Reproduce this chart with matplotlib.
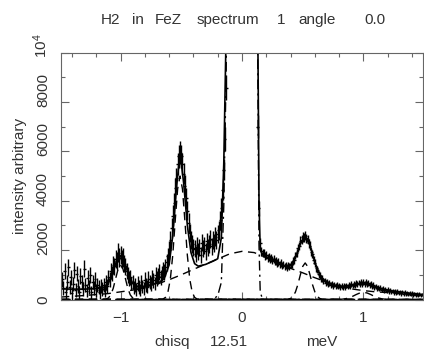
import numpy as np
import matplotlib
matplotlib.use("Agg")
import matplotlib.pyplot as plt
import matplotlib.transforms as mtransforms
from matplotlib.ticker import MultipleLocator

plt.rcParams['font.family'] = ['Liberation Sans', 'DejaVu Sans']
plt.rcParams['mathtext.default'] = 'regular'

# measured points, 0.01 meV bins starting at -1.48
intensity = [
    # -1.48 .. -1.16
    820, 450, 1150, 300, 700, 1300, 520, 900, 250, 640, 1200, 380, 1050, 560, 300, 950, 720,
    420, 1250, 600, 350, 880, 500, 1000, 300, 700, 460, 820, 380, 600, 520, 300, 560,
    # -1.15 .. -0.86
    420, 600, 380, 700, 560, 900, 820, 1150, 1050, 1400,
    1350, 1650, 1550, 1900, 1700, 1800, 1650, 1700, 1450, 1350,
    1150, 1000, 850, 900, 650, 700, 480, 600, 420, 650,
    # -0.85 .. -0.64
    500, 380, 700, 520, 450, 800, 600, 520, 850, 700,
    620, 900, 780, 650, 1000, 850, 950, 1100, 900, 1050, 1200, 1100,
    # -0.63 .. -0.40
    1300, 1500, 1750, 2000, 2400, 2900, 3400, 3900, 4500, 4900, 5500, 5800,
    5950, 5800, 5500, 5100, 4600, 4100, 3600, 3100, 2700, 2400, 2250, 2100,
    # -0.39 .. -0.18
    2050, 1850, 2200, 1950, 2100, 1800, 2300, 2050, 2200, 1950,
    2350, 2100, 2250, 2450, 2150, 2400, 2300, 2550, 2400, 2650, 2800, 3200,
    # -0.17 .. -0.12
    3700, 4450, 5260, 6500, 8580, 11500,
    # -0.11 .. 0.11 (off scale)
    15000, 20000, 28000, 38000, 50000, 62000, 72000, 80000, 86000, 90000, 92000, 93000,
    92000, 90000, 86000, 80000, 72000, 62000, 50000, 38000, 28000, 20000, 15000,
    # 0.12 .. 0.17
    12000, 7000, 3700, 2300, 1950, 1880,
    # 0.18 .. 1.48
    1880, 1770, 1790, 1690, 1730, 1650, 1670, 1590, 1630, 1540,
    1570, 1480, 1510, 1420, 1470, 1380, 1410, 1340, 1380, 1310,
    1360, 1330, 1430, 1420, 1560, 1590, 1780, 1870, 2080, 2170,
    2380, 2420, 2530, 2520, 2590, 2470, 2450, 2270, 2180, 1920,
    1830, 1590, 1480, 1270, 1200, 1020, 980, 850, 850, 750,
    770, 680, 720, 630, 670, 600, 640, 560, 600, 540,
    590, 515, 565, 500, 555, 490, 560, 510, 575, 525,
    595, 545, 620, 570, 640, 595, 665, 615, 685, 635,
    700, 645, 710, 645, 700, 625, 670, 590, 630, 550,
    585, 500, 540, 460, 500, 425, 470, 395, 440, 370,
    420, 345, 395, 325, 375, 305, 355, 290, 340, 275,
    325, 260, 312, 245, 298, 232, 286, 220, 275, 210,
    265, 200, 255, 190, 245, 180, 235, 170, 226, 162,
    200,
]
errors = [
    300, 280, 320, 260, 300, 340, 280, 310, 250, 290, 330, 270, 320, 280, 260, 310, 290,
    270, 330, 290, 260, 300, 280, 320, 260, 290, 270, 300, 260, 290, 280, 260, 280,
    270, 290, 260, 300, 280, 310, 300, 330, 320, 350,
    350, 370, 360, 380, 370, 370, 360, 370, 350, 340,
    330, 320, 300, 310, 280, 290, 270, 280, 260, 290,
    270, 250, 290, 270, 260, 300, 280, 270, 300, 290,
    280, 310, 300, 280, 320, 300, 310, 320, 300, 320, 330, 320,
    330, 340, 350, 360, 380, 400, 410, 420, 430, 440, 450, 460,
    460, 460, 450, 440, 430, 420, 400, 390, 370, 360, 350, 340,
    340, 330, 350, 340, 340, 330, 350, 340, 350, 340,
    360, 350, 350, 360, 350, 360, 360, 370, 360, 370, 380, 390,
    400, 420, 440, 470, 500, 550,
    600, 600, 600, 600, 600, 600, 600, 600, 600, 600, 600, 600,
    600, 600, 600, 600, 600, 600, 600, 600, 600, 600, 600,
    550, 450, 300, 200, 170, 160,
    170, 170, 165, 165, 165, 160, 160, 160, 155, 155,
    155, 150, 150, 150, 150, 145, 145, 145, 145, 140,
    140, 140, 145, 145, 150, 155, 160, 165, 170, 175,
    180, 180, 185, 185, 185, 185, 180, 180, 175, 170,
    165, 160, 150, 145, 140, 135, 130, 125, 125, 120,
    120, 120, 120, 115, 115, 115, 115, 115, 110, 110,
    110, 110, 110, 110, 110, 110, 110, 110, 110, 110,
    110, 110, 115, 115, 115, 115, 115, 115, 115, 115,
    120, 120, 120, 120, 115, 115, 115, 115, 110, 110,
    110, 105, 105, 105, 100, 100, 100, 100, 95, 95,
    95, 95, 95, 90, 90, 90, 90, 90, 85, 85,
    85, 85, 85, 85, 80, 80, 80, 80, 80, 80,
    80, 75, 75, 75, 75, 75, 75, 70, 70, 70,
    70,
]
assert len(errors) == len(intensity)
energy = np.round(-1.48 + 0.01 * np.arange(len(intensity)), 2)

# total fit
fit_x = [-1.49, -1.40, -1.30, -1.20, -1.14, -1.10, -1.06, -1.03, -1.00, -0.97,
         -0.94, -0.90, -0.86, -0.80, -0.74, -0.68, -0.64, -0.60, -0.57, -0.54,
         -0.51, -0.48, -0.45, -0.42, -0.39, -0.36, -0.30, -0.24, -0.20, -0.17,
         -0.15, -0.13, -0.12, -0.10, 0.0, 0.10, 0.12, 0.13, 0.14, 0.15,
         0.17, 0.20, 0.25, 0.30, 0.35, 0.40, 0.44, 0.48, 0.52, 0.56,
         0.60, 0.64, 0.68, 0.72, 0.78, 0.84, 0.90, 0.95, 1.00, 1.05,
         1.10, 1.16, 1.22, 1.30, 1.40, 1.49]
fit_y = [430, 420, 420, 440, 470, 650, 1150, 1600, 1750, 1550,
         1100, 650, 520, 540, 600, 700, 850, 1400, 2600, 4500,
         5950, 4700, 3000, 1900, 1450, 1350, 1420, 1550, 1650, 2500,
         5500, 11000, 20000, 40000, 80000, 40000, 20000, 11000, 4000, 2000,
         1820, 1720, 1580, 1450, 1350, 1380, 1700, 2250, 2520, 2200,
         1500, 1000, 760, 650, 560, 530, 560, 620, 650, 620,
         520, 420, 360, 300, 240, 200]

# broad quasielastic component
broad_x = [-1.49, -1.3, -1.1, -0.9, -0.7, -0.6, -0.5, -0.4, -0.3, -0.2, -0.1, 0.0, 0.1,
           0.2, 0.3, 0.4, 0.5, 0.6, 0.7, 0.8, 0.9, 1.0, 1.1, 1.2, 1.3, 1.4, 1.49]
broad_y = [100, 160, 240, 380, 620, 800, 1000, 1220, 1430, 1640, 1850, 1950, 1900,
           1700, 1450, 1260, 1080, 880, 700, 540, 430, 360, 310, 280, 250, 220, 195]

# elastic line (dash-dot)
elastic_x = [-1.49, -0.24, -0.20, -0.17, -0.15, -0.13, -0.12, 0.0, 0.12, 0.13, 0.14, 0.15, 0.17, 1.49]
elastic_y = [0, 0, 150, 700, 3800, 9300, 18000, 78000, 18000, 9300, 2200, 300, 0, 0]

# inelastic peaks (dashed)
peak1_x = [-1.49, -1.14, -1.12, -1.10, -1.08, -1.06, -1.04, -1.02, -1.00, -0.98, -0.96,
           -0.94, -0.92, -0.90, -0.88, -0.86, 1.49]
peak1_y = [0, 3, 15, 62, 190, 455, 850, 1235, 1400, 1235, 850, 455, 190, 62, 15, 3, 0]
peak2_x = [-1.49, -0.65, -0.63, -0.61, -0.59, -0.57, -0.55, -0.53, -0.51, -0.49, -0.47,
           -0.45, -0.43, -0.41, -0.39, -0.37, 1.49]
peak2_y = [0, 19, 85, 295, 820, 1800, 3180, 4470, 5000, 4470, 3180, 1800, 820, 295, 85, 19, 0]
peak3_x = [-1.49, 0.38, 0.40, 0.42, 0.44, 0.46, 0.48, 0.50, 0.52, 0.54, 0.56,
           0.58, 0.60, 0.62, 0.64, 0.66, 1.49]
peak3_y = [0, 12, 42, 125, 305, 608, 994, 1340, 1480, 1340, 994, 608, 305, 125, 42, 12, 0]
peak4_x = [-1.49, 0.79, 0.82, 0.85, 0.88, 0.91, 0.94, 0.97, 1.00, 1.03, 1.06,
           1.09, 1.12, 1.15, 1.18, 1.21, 1.49]
peak4_y = [0, 0, 11, 29, 67, 127, 201, 264, 290, 264, 201, 127, 67, 29, 11, 0, 0]

W, H = 424, 351
TXT = '#333333'
AX_C = '#666666'


def px(x, y):
    return x / W, 1 - y / H


fig = plt.figure(figsize=(W / 100, H / 100), dpi=100)
ax = fig.add_axes([61 / W, (H - 299.5) / H, (423 - 61) / W, (299.5 - 52.5) / H])

ax.errorbar(energy, intensity, yerr=errors, xerr=0.012, fmt='none',
            ecolor='black', elinewidth=1.0, capsize=0)
ax.plot(fit_x, fit_y, color='black', lw=1.2)
dash = (0, (6, 4))
for bx, by in [(broad_x, broad_y), (peak1_x, peak1_y), (peak2_x, peak2_y),
               (peak3_x, peak3_y), (peak4_x, peak4_y)]:
    ax.plot(bx, by, color='black', lw=1.0, ls=dash)
ax.plot(elastic_x, elastic_y, color='black', lw=1.0, ls=(0, (7, 3, 1.5, 3)))

ax.set_xlim(-1.49, 1.49)
ax.set_ylim(0, 10000)
ax.xaxis.set_major_locator(MultipleLocator(1))
ax.xaxis.set_minor_locator(MultipleLocator(0.2))
ax.set_yticks([0, 2000, 4000, 6000, 8000, 10000])
ax.set_yticklabels(['0', '2000', '4000', '6000', '8000', r'$10^4$'],
                   rotation=90, va='bottom')
ax.yaxis.set_minor_locator(MultipleLocator(1000))
ax.tick_params(which='both', direction='in', top=True, right=True,
               color=AX_C, labelcolor=TXT, labelsize=11)
ax.tick_params(which='major', length=6, width=0.8)
ax.tick_params(which='minor', length=3, width=0.8)
ax.tick_params(axis='x', pad=8)
ax.tick_params(axis='y', pad=8)
offset = mtransforms.ScaledTranslation(0, -5 / 100, fig.dpi_scale_trans)
for lab in ax.get_yticklabels():
    lab.set_transform(lab.get_transform() + offset)
for sp in ax.spines.values():
    sp.set_color(AX_C)
    sp.set_linewidth(0.8)

# title words
for word, xc in [('H2', 110), ('in', 137.5), ('FeZ', 168), ('spectrum', 227.5),
                 ('1', 281), ('angle', 317.5), ('0.0', 375)]:
    fig.text(*px(xc, 20), word, ha='center', va='center', fontsize=11, color=TXT)

# bottom label words
for word, xc in [('chisq', 172), ('12.51', 229), ('meV', 322)]:
    fig.text(*px(xc, 342), word, ha='center', va='center', fontsize=11, color=TXT)

fig.text(*px(20, 176), 'intensity arbitrary', rotation=90, ha='center',
         va='center', fontsize=11, color=TXT)

fig.savefig('out.png', dpi=100)
